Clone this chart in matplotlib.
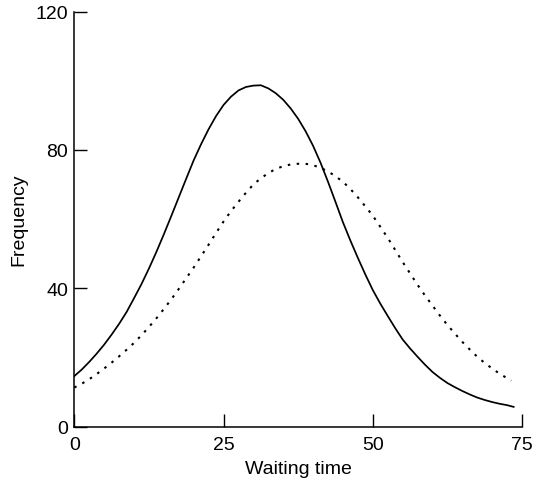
import matplotlib
matplotlib.use("Agg")
import matplotlib.pyplot as plt

plt.rcParams['font.family'] = ['Liberation Sans', 'DejaVu Sans']

solid_x = [0, 1.25, 2.5, 3.75, 5, 6.25, 7.5, 8.75, 10, 11.25, 12.5, 13.75, 15, 16.25, 17.5,
           18.75, 20, 21.25, 22.5, 23.75, 25, 26.25, 27.5, 28.75, 30, 31.25, 32.5, 33.75, 35,
           36.25, 37.5, 38.75, 40, 41.25, 42.5, 43.75, 45, 46.25, 47.5, 48.75, 50, 51.25, 52.5,
           53.75, 55, 56.25, 57.5, 58.75, 60, 61.25, 62.5, 63.75, 65, 66.25, 67.5, 68.75, 70,
           71.25, 72.5, 73.6]
solid_y = [14.6, 16.5, 18.7, 21.1, 23.7, 26.6, 29.7, 33.1, 37.1, 41.2, 45.7, 50.5, 55.6, 60.9, 66.3,
           71.7, 77, 81.7, 86, 89.8, 93, 95.4, 97.2, 98.2, 98.6, 98.7, 97.8, 96.4, 94.5,
           92, 89, 85.4, 81.2, 76.3, 70.8, 65, 59.1, 53.8, 48.8, 44, 39.5, 35.6, 32,
           28.5, 25.2, 22.6, 20.2, 17.9, 15.8, 14.1, 12.6, 11.4, 10.3, 9.3, 8.4, 7.7, 7.1,
           6.6, 6.2, 5.7]

dotted_x = [0, 1.25, 2.5, 3.75, 5, 6.25, 7.5, 8.75, 10, 11.25, 12.5, 13.75, 15, 16.25, 17.5,
            18.75, 20, 21.25, 22.5, 23.75, 25, 26.25, 27.5, 28.75, 30, 31.25, 32.5, 33.75, 35,
            36.25, 37.5, 38.75, 40, 41.25, 42.5, 43.75, 45, 46.25, 47.5, 48.75, 50, 51.25, 52.5,
            53.75, 55, 56.25, 57.5, 58.75, 60, 61.25, 62.5, 63.75, 65, 66.25, 67.5, 68.75, 70,
            71.25, 72.5, 73.2]
dotted_y = [11.3, 12.4, 13.7, 15.2, 16.8, 18.5, 20.3, 22.2, 24.2, 26.4, 28.8, 31.3, 34, 36.8, 39.8,
            42.9, 46, 49.3, 52.6, 56, 59.3, 62.3, 65, 67.6, 70, 71.8, 73.3, 74.5, 75.3,
            75.8, 76, 76, 75.6, 74.8, 73.8, 72.4, 70.8, 68.7, 66.3, 63.7, 61, 57.8, 54.6,
            51.1, 47.6, 44.3, 41, 37.9, 35, 32.1, 29.4, 26.9, 24.5, 22.3, 20.2, 18.4, 16.8,
            15.3, 14, 13.3]

x_ticks = [0, 25, 50, 75]
y_ticks = [0, 40, 80, 120]

fig = plt.figure(figsize=(5.34, 4.85), dpi=100)
ax = fig.add_axes([74.3 / 534, 1 - 427.6 / 485, (522 - 74.3) / 534, (427.6 - 12.6) / 485])

ax.plot(solid_x, solid_y, color='black', lw=1.25, solid_joinstyle='round')
ax.plot(dotted_x, dotted_y, color='black', lw=1.5, linestyle=(0, (1.2, 3.1)))

ax.set_xlim(0, 75)
ax.set_ylim(0, 120)
ax.set_xticks(x_ticks)
ax.set_yticks(y_ticks)
ax.spines['top'].set_visible(False)
ax.spines['right'].set_visible(False)
for s in ['left', 'bottom']:
    ax.spines[s].set_linewidth(1.1)
ax.tick_params(direction='in', length=9.5, width=1.0, labelsize=14)
ax.tick_params(axis='x', pad=7)
ax.tick_params(axis='y', pad=4.5)
ax.set_xlabel('Waiting time', fontsize=14, labelpad=5)
ax.set_ylabel('Frequency', fontsize=14, labelpad=6)

fig.savefig('out.png', dpi=100)
